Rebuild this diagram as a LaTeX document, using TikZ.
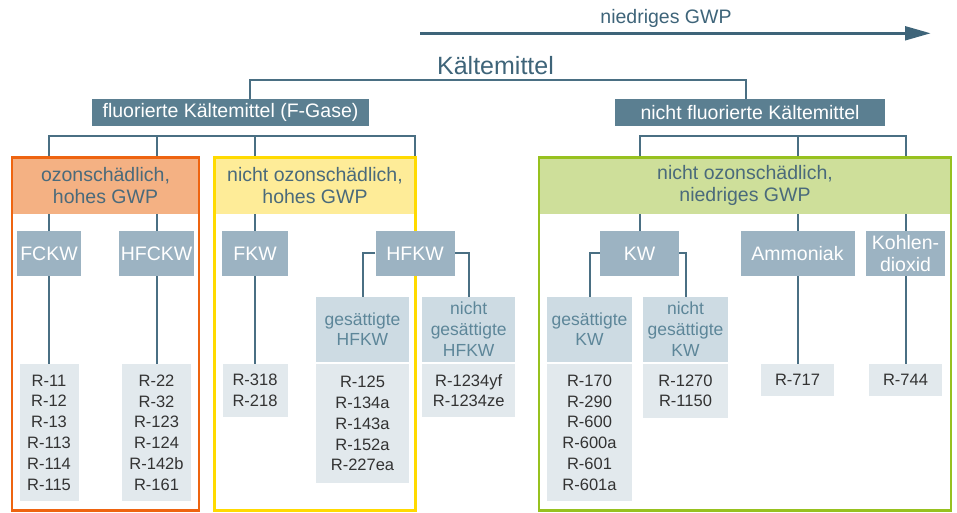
\documentclass[tikz,border=0pt]{standalone}
\usepackage{fontspec}
\setmainfont{Liberation Sans}
\usetikzlibrary{arrows.meta,backgrounds}

\definecolor{kopfblau}{HTML}{5B7F91}
\definecolor{mittelblau}{HTML}{9CB3C2}
\definecolor{hellblau}{HTML}{CDDBE3}
\definecolor{blass}{HTML}{E2E9ED}
\definecolor{linie}{HTML}{4A6F83}
\definecolor{titeltext}{HTML}{3E6479}
\definecolor{kopftext}{HTML}{4A6A7B}
\definecolor{untertext}{HTML}{5D8699}
\definecolor{wertetext}{HTML}{333333}
\definecolor{orangerand}{HTML}{EE6410}
\definecolor{orangefill}{HTML}{F4B183}
\definecolor{gelbrand}{HTML}{FFDA00}
\definecolor{gelbfill}{HTML}{FEEC98}
\definecolor{gruenrand}{HTML}{97C11F}
\definecolor{gruenfill}{HTML}{CEDF9A}

\begin{document}
\begin{tikzpicture}[x=1pt, y=-1pt,
		every node/.style={inner sep=0pt, align=center},
		conn/.style={draw=linie, line width=2pt},
		rahmen/.style={line width=2.8pt},
		hauptbox/.style={fill=kopfblau, text=white, minimum height=27pt, font=\fontsize{19.5}{22}\selectfont},
		kopf/.style={anchor=north, minimum height=55.8pt, text=kopftext, font=\fontsize{19.5}{21.6}\selectfont},
		gruppe/.style={fill=mittelblau, text=white, minimum height=44.7pt, font=\fontsize{19.5}{22}\selectfont},
		unter/.style={fill=hellblau, text=untertext, minimum height=65pt, font=\fontsize{17.5}{20.7}\selectfont},
		werte/.style={fill=blass, text=wertetext, anchor=north, font=\fontsize{16.5}{20.8}\selectfont}]
	\useasboundingbox (0,0) rectangle (957,513);

	% Pfeil oben
	\coordinate (pa) at (420,33.3);
	\coordinate (pe) at (931,33.3);
	\draw[draw=titeltext, line width=3.5pt, -{Triangle[length=26pt, width=13.5pt]}] (pa) -- (pe);
	\node[text=titeltext, font=\fontsize{19.5}{22}\selectfont] (gwp) at (666,18) {niedriges GWP};

	% Titel
	\node[text=titeltext, font=\fontsize{25}{28}\selectfont] (titel) at (495.5,66) {Kältemittel};
	\coordinate (tl) at (250,80);
	\coordinate (tr) at (745.7,80);

	\node[hauptbox, minimum width=277pt] (fgas) at (230.5,112.4) {fluorierte Kältemittel (F-Gase)};
	\node[hauptbox, minimum width=270pt] (nfgas) at (750,112.4) {nicht fluorierte Kältemittel};
	\coordinate (bl) at (49,135.7);
	\coordinate (br) at (640.7,135.7);

	% Gruppen mit Rahmen
	\node[kopf, fill=orangefill, minimum width=187pt] (ozon) at (105.5,157.5) {ozonschädlich,\\hohes GWP};
	\node[kopf, fill=gelbfill, minimum width=201pt] (gelb) at (315,157.5) {nicht ozonschädlich,\\hohes GWP};
	\node[kopf, fill=gruenfill, minimum width=412pt] (gruen) at (745,157.5) {nicht ozonschädlich,\\niedriges GWP};
	\draw[rahmen, draw=orangerand] (12,157.5) rectangle (199,510.7);
	\draw[rahmen, draw=gelbrand] (214.5,157.5) rectangle (415.5,510.7);
	\draw[rahmen, draw=gruenrand] (539,157.5) rectangle (951,510.7);

	% Stoffgruppen
	\node[gruppe, minimum width=64pt] (fckw) at (49,253.3) {FCKW};
	\node[gruppe, minimum width=75pt] (hfckw) at (156.5,253.3) {HFCKW};
	\node[gruppe, minimum width=66pt] (fkw) at (255,253.3) {FKW};
	\node[gruppe, minimum width=79pt] (hfkw) at (415,253.3) {HFKW};
	\node[gruppe, minimum width=79pt] (kw) at (639.5,253.3) {KW};
	\node[gruppe, minimum width=114pt] (nh3) at (797.5,253.3) {Ammoniak};
	\node[gruppe, minimum width=79pt] (co2) at (905.5,253.3) {Kohlen-\\dioxid};

	\node[unter, minimum width=93pt] (geshfkw) at (362.5,329.2) {gesättigte\\HFKW};
	\node[unter, minimum width=92.7pt] (ngeshfkw) at (468.7,329.2) {nicht\\gesättigte\\HFKW};
	\node[unter, minimum width=84.4pt] (geskw) at (589.5,329.2) {gesättigte\\KW};
	\node[unter, minimum width=84.4pt] (ngeskw) at (685.5,329.2) {nicht\\gesättigte\\KW};

	% Kältemittel
	\node[werte, minimum width=59pt, minimum height=136.7pt] (rfckw) at (49,364) {R-11\\R-12\\R-13\\R-113\\R-114\\R-115};
	\node[werte, minimum width=69pt, minimum height=136.7pt] (rhfckw) at (156.5,364) {R-22\\R-32\\R-123\\R-124\\R-142b\\R-161};
	\node[werte, minimum width=65pt, minimum height=52.7pt] (rfkw) at (255,364) {R-318\\R-218};
	\node[werte, minimum width=93pt, minimum height=118.7pt] (rgeshfkw) at (362.5,364) {R-125\\R-134a\\R-143a\\R-152a\\R-227ea};
	\node[werte, minimum width=92.7pt, minimum height=52.7pt] (rngeshfkw) at (468.7,364) {R-1234yf\\R-1234ze};
	\node[werte, minimum width=84.4pt, minimum height=136.7pt] (rgeskw) at (589.5,364) {R-170\\R-290\\R-600\\R-600a\\R-601\\R-601a};
	\node[werte, minimum width=84.4pt, minimum height=53.3pt] (rngeskw) at (685.5,364) {R-1270\\R-1150};
	\node[werte, minimum width=72.7pt, minimum height=31.7pt] (rnh3) at (797.5,364) {R-717};
	\node[werte, minimum width=72.7pt, minimum height=31.7pt] (rco2) at (905.5,364) {R-744};

	% Verbindungen
	\begin{scope}[on background layer]
		\draw[conn] (fgas.north -| tl) |- (tr) -- (nfgas.north -| tr);
		\draw[conn] (fckw) |- (hfkw |- bl) -- (hfkw);
		\draw[conn] (hfckw) -- (hfckw |- bl);
		\draw[conn] (fkw) -- (fkw |- bl);
		\draw[conn] (kw) |- (co2 |- br) -- (co2);
		\draw[conn] (nh3) -- (nh3 |- br);
		\draw[conn] (fckw) -- (rfckw);
		\draw[conn] (hfckw) -- (rhfckw);
		\draw[conn] (fkw) -- (rfkw);
		\draw[conn] (hfkw.west) -| (geshfkw.north);
		\draw[conn] (hfkw.east) -| (ngeshfkw.north);
		\draw[conn] (kw.west) -| (geskw.north);
		\draw[conn] (kw.east) -| (ngeskw.north);
		\draw[conn] (nh3) -- (rnh3);
		\draw[conn] (co2) -- (rco2);
	\end{scope}
\end{tikzpicture}
\end{document}
